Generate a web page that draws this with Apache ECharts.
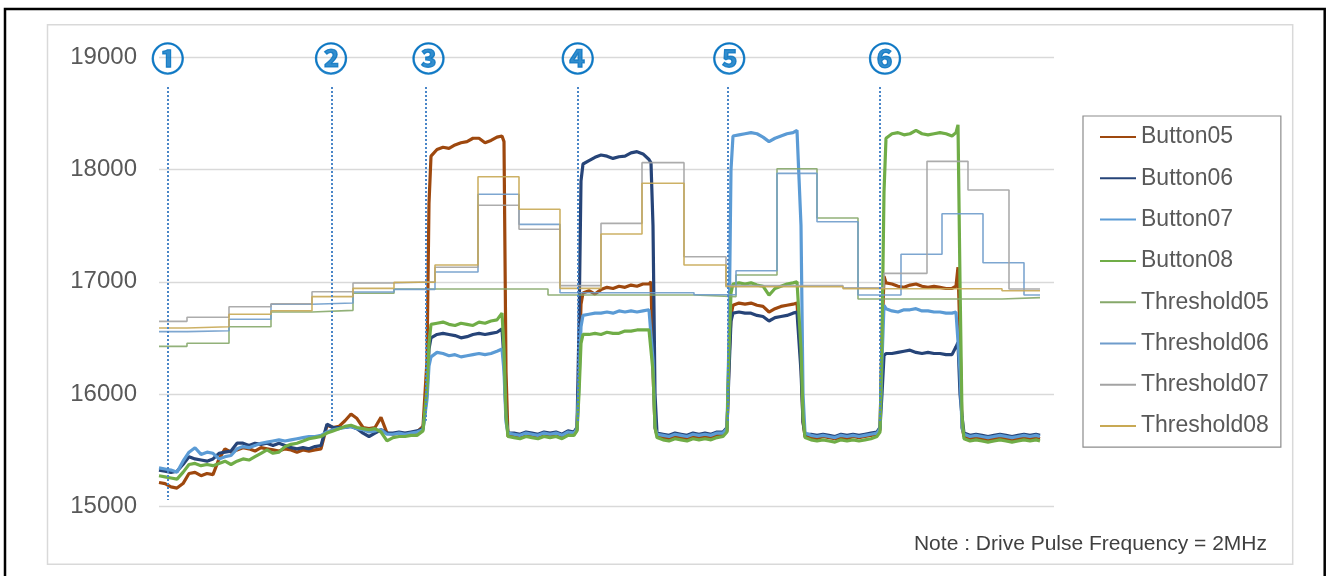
<!DOCTYPE html>
<html>
<head>
<meta charset="utf-8">
<script src="https://cdn.jsdelivr.net/npm/echarts@6/dist/echarts.min.js"></script>
<style>
html,body{margin:0;padding:0;background:#fff;}
#chart{width:1328px;height:576px;}
</style>
</head>
<body>
<div id="chart"></div>
<script>
// ---- sample times (arbitrary time units) ----
const t = [
  0,6,12,18,24,30,36,42,48,54,60,66,72,78,84,90,96,102,108,114,120,126,132,138,144,150,156,162,168,174,180,186,192,198,204,210,216,222,228,234,240,246,252,258,264,
  266,268,270,272,
  278,284,290,296,302,308,314,320,326,332,338,343,
  345,347,349,
  355,361,367,373,379,385,391,397,403,409,415,418,
  420,422,424,
  430,436,442,448,454,460,466,472,478,484,490,492,
  494,496,498,
  504,510,516,522,528,534,540,546,552,558,564,568,
  570,572,574,
  580,586,592,598,604,610,616,622,628,634,638,640,
  642,644,646,
  652,658,664,670,676,682,688,694,700,706,712,718,721,
  723,725,727,
  733,739,745,751,757,763,769,775,781,787,793,797,799,
  801,803,805,
  811,817,823,829,835,841,847,853,859,865,871,877,881
];

const button05 = [
  15210,15200,15170,15160,15200,15290,15300,15270,15290,15280,15420,15510,15480,15500,15520,15510,15490,15520,15510,15500,15490,15510,15500,15480,15500,15490,15500,15510,15720,15700,15710,15760,15820,15780,15700,15690,15700,15790,15650,15640,15650,15640,15650,15660,15710,
  15720,16300,17700,18120,
  18180,18200,18190,18220,18240,18250,18280,18280,18240,18260,18290,18300,
  18250,16200,15620,
  15630,15620,15640,15630,15620,15640,15630,15640,15620,15650,15640,15680,
  16200,16800,16900,
  16920,16890,16930,16950,16940,16960,16950,16970,16960,16980,16980,17000,
  16200,15700,15630,
  15610,15600,15620,15610,15600,15620,15610,15620,15610,15630,15640,15670,
  16300,16700,16790,
  16810,16800,16810,16790,16780,16730,16760,16780,16790,16800,16810,16800,
  16300,15750,15620,
  15610,15600,15620,15610,15600,15610,15600,15620,15610,15620,15630,15640,15680,
  16500,17050,16990,
  16980,16960,16950,16970,16980,16960,16950,16960,16950,16940,16940,16960,17130,
  16500,15700,15620,
  15600,15610,15600,15590,15600,15610,15600,15590,15600,15610,15600,15610,15600
];

const button06 = [
  15320,15310,15300,15310,15370,15440,15420,15410,15400,15420,15470,15480,15490,15560,15560,15540,15560,15550,15560,15540,15560,15540,15520,15510,15520,15510,15530,15540,15730,15700,15700,15700,15710,15690,15650,15620,15650,15680,15650,15650,15660,15650,15660,15670,15690,
  15700,16000,16400,16500,
  16530,16540,16530,16520,16500,16510,16530,16540,16530,16540,16550,16580,
  16300,15800,15650,
  15650,15640,15660,15650,15640,15660,15650,15660,15640,15670,15660,15700,
  16600,17900,18050,
  18080,18110,18130,18120,18100,18115,18120,18150,18160,18140,18090,18060,
  17500,16000,15650,
  15640,15630,15650,15640,15630,15650,15640,15650,15640,15660,15660,15700,
  16200,16650,16720,
  16730,16720,16720,16700,16690,16650,16680,16690,16700,16720,16730,16720,
  16200,15750,15640,
  15640,15630,15640,15630,15620,15640,15630,15640,15630,15640,15650,15660,15700,
  16000,16340,16360,
  16360,16370,16380,16390,16370,16360,16370,16360,16360,16350,16350,16420,16460,
  16000,15800,15650,
  15630,15640,15630,15620,15630,15640,15630,15620,15630,15640,15630,15640,15630
];

const button07 = [
  15340,15330,15320,15300,15400,15480,15520,15460,15480,15470,15420,15440,15450,15510,15530,15520,15540,15560,15570,15580,15590,15580,15590,15600,15610,15620,15620,15630,15660,15680,15690,15700,15710,15690,15680,15660,15670,15680,15640,15640,15650,15640,15650,15660,15680,
  15690,15950,16250,16330,
  16370,16360,16340,16350,16330,16340,16350,16360,16350,16360,16380,16400,
  16200,15750,15650,
  15640,15630,15650,15640,15630,15650,15640,15650,15630,15660,15650,15690,
  16100,16600,16700,
  16710,16720,16720,16730,16720,16740,16730,16740,16730,16740,16750,16760,
  16300,15700,15640,
  15630,15620,15640,15630,15620,15640,15630,15640,15630,15650,15650,15690,
  16500,18000,18300,
  18310,18320,18330,18320,18290,18250,18280,18300,18320,18330,18350,18340,
  17500,16000,15650,
  15630,15620,15630,15620,15610,15630,15620,15630,15620,15630,15640,15650,15690,
  16300,16790,16760,
  16740,16730,16750,16750,16760,16740,16740,16730,16730,16720,16720,16730,16740,
  16200,15700,15640,
  15620,15630,15620,15610,15620,15630,15620,15610,15620,15630,15620,15630,15620
];

const button08 = [
  15270,15260,15250,15240,15300,15370,15380,15360,15370,15360,15380,15400,15370,15400,15420,15410,15440,15470,15500,15470,15480,15530,15550,15560,15580,15600,15610,15620,15650,15670,15690,15710,15720,15700,15690,15680,15690,15660,15580,15610,15620,15620,15630,15630,15670,
  15680,16050,16450,16620,
  16630,16640,16620,16610,16630,16620,16610,16640,16630,16650,16660,16720,
  16400,15800,15620,
  15610,15600,15620,15610,15600,15620,15610,15620,15600,15630,15630,15670,
  16000,16450,16530,
  16530,16540,16530,16550,16540,16540,16560,16560,16570,16570,16570,16580,
  16200,15700,15610,
  15590,15580,15600,15590,15580,15600,15590,15600,15590,15610,15620,15660,
  16400,16900,16980,
  16990,16980,16990,16970,16960,16880,16940,16960,16980,16990,17000,17000,
  16400,15800,15610,
  15590,15580,15590,15580,15570,15590,15580,15590,15580,15590,15600,15620,15660,
  16500,17800,18280,
  18320,18330,18310,18320,18350,18320,18310,18320,18330,18320,18300,18330,18400,
  17000,15800,15600,
  15580,15590,15580,15570,15580,15590,15580,15570,15580,15590,15580,15590,15580
];

// ---- thresholds (step changes: time, value) ----
const thr05T = [0,28,70,112,153,194,235,389,535,577,618,658,699,843,881];
const thr05V = [16424,16451,16599,16730,16745,16897,16935,16882,16867,17060,18008,17568,16846,16858,16858];
const thr06T = [0,28,70,112,153,194,235,276,319,360,401,535,577,618,658,699,742,783,824,865,881];
const thr06V = [16555,16563,16665,16799,16810,16908,16932,17087,17780,17512,16902,16884,17098,17967,17535,16882,17245,17607,17170,16882,16882];
const thr07T = [0,28,70,112,153,194,235,276,319,360,401,442,483,525,567,684,725,768,809,850,881];
const thr07V = [16647,16683,16777,16804,16911,16989,17000,17129,17682,17468,16965,17521,18062,17223,16965,16947,17075,18074,17818,16935,16935];
const thr08T = [0,28,70,112,153,194,235,276,319,360,401,442,483,525,567,684,843,881];
const thr08V = [16587,16599,16710,16742,16867,16941,16995,17149,17937,17646,16941,17426,17878,17149,16956,16938,16920,16920];

// ---- event markers ----
const markerLabels = ['①','②','③','④','⑤','⑥'];
const markerLineT = [8.7,172.3,266.3,418.7,568.7,721];
const markerLabelT = [8.7,172,269.5,418.7,570.3,726];
const markerLineTop = 18737;
const markerLineBottom = [15054,15745,15760,15740,15760,15740];
const markerLabelY = 18990;

const yTicks = [15000,16000,17000,18000,19000];

const zip = (xs, ys) => xs.map((x, i) => [x, ys[i]]);

const btnColors = ['#9E480E','#264478','#5B9BD5','#70AD47'];
const thrColors = ['#86A86A','#6F9CCB','#A3A3A3','#C8A954'];
const font = 'Liberation Sans, Arial, sans-serif';

function btn(name, vals, color){
  return {name, type:'line', data: zip(t, vals), symbol:'none', color,
    lineStyle:{color, width:3.2}, z:2, silent:true};
}
function thr(name, xs, vs, color){
  return {name, type:'line', step:'end', data: zip(xs, vs), symbol:'none', color,
    lineStyle:{color, width:1.6, opacity:0.9}, z:3, silent:true};
}

const chart = echarts.init(document.getElementById('chart'), null, {renderer:'canvas'});
chart.setOption({
  animation:false,
  backgroundColor:'#fff',
  grid:{left:159, right:274, top:57.5, bottom:70, outerBoundsMode:'none'},
  xAxis:{type:'value', min:0, max:895, show:false},
  yAxis:{type:'value', min:yTicks[0], max:yTicks[yTicks.length-1], interval:1000,
    axisLine:{show:false}, axisTick:{show:false},
    axisLabel:{margin:22, fontSize:24, color:'#595959', fontFamily:font, formatter: v => String(v)},
    splitLine:{lineStyle:{color:'#D9D9D9', width:1.3}}},
  legend:{
    orient:'vertical', left:1083, top:116,
    padding:[9,12,9,17], itemGap:17.3, itemWidth:36, itemHeight:2, icon:'rect',
    borderColor:'#8C8C8C', borderWidth:1.2, backgroundColor:'#fff',
    textStyle:{fontSize:23, color:'#595959', fontFamily:font, lineHeight:24},
    data:['Button05','Button06','Button07','Button08','Threshold05','Threshold06','Threshold07','Threshold08']
  },
  series:[
    btn('Button05', button05, btnColors[0]),
    btn('Button06', button06, btnColors[1]),
    btn('Button07', button07, btnColors[2]),
    btn('Button08', button08, btnColors[3]),
    thr('Threshold05', thr05T, thr05V, thrColors[0]),
    thr('Threshold06', thr06T, thr06V, thrColors[1]),
    thr('Threshold07', thr07T, thr07V, thrColors[2]),
    thr('Threshold08', thr08T, thr08V, thrColors[3]),
    {
      name:'markers', type:'scatter', silent:true, z:5,
      data: markerLabelT.map(x => [x, markerLabelY]),
      symbolSize:1, itemStyle:{color:'rgba(0,0,0,0)'},
      label:{show:true, position:'inside', formatter: p => markerLabels[p.dataIndex],
        fontSize:33, fontWeight:'bold', color:'#0070C0', fontFamily:'Noto Sans CJK JP',
        textBorderColor:'#0070C0', textBorderWidth:1.2},
      markLine:{
        silent:true, symbol:['none','none'], label:{show:false},
        lineStyle:{color:'#4A86C8', type:'dotted', width:2},
        data: markerLineT.map((x, i) => [{coord:[x, markerLineTop]}, {coord:[x, markerLineBottom[i]]}])
      }
    }
  ],
  graphic:[
    {type:'rect', silent:true, z:-10, shape:{x:47.5, y:24.7, width:1245.2, height:539.6},
      style:{fill:null, stroke:'#D9D9D9', lineWidth:1.5}},
    {type:'rect', silent:true, z:100, shape:{x:5, y:9, width:1319.7, height:600},
      style:{fill:null, stroke:'#000', lineWidth:2.5}},
    {type:'text', silent:true, right:1328-1267, top:534,
      style:{text:'Note : Drive Pulse Frequency = 2MHz', font:'21px ' + font, fill:'#404040'}}
  ]
});
</script>
</body>
</html>
